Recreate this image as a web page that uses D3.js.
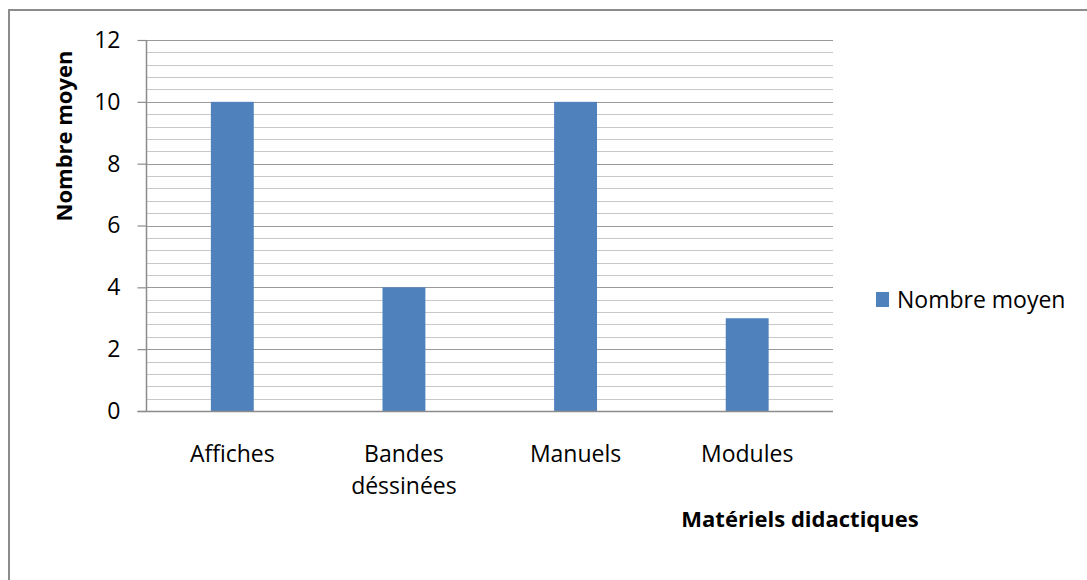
<!DOCTYPE html>
<html>
<head>
<meta charset="utf-8">
<script src="https://cdn.jsdelivr.net/npm/d3@7"></script>
<style>
  html, body { margin: 0; padding: 0; background: #fff; }
  svg { display: block; }
  text { font-family: "Open Sans", Lato, sans-serif; fill: #000; }
</style>
</head>
<body>
<svg id="chart" width="1087" height="580"></svg>
<script>
// Average number of teaching materials per type
const categories = [["Affiches"], ["Bandes", "déssinées"], ["Manuels"], ["Modules"]];
const values = [10, 4, 10, 3];
const seriesName = "Nombre moyen";
const yTicks = [0, 2, 4, 6, 8, 10, 12];
const xTitle = "Matériels didactiques";
const yTitle = "Nombre moyen";

const svg = d3.select("#chart");
const W = 1087, H = 580;
const plot = { left: 146.5, right: 833, top: 40, bottom: 411 };
const barColor = "#4f81bd";
const FONT = "\"Open Sans\", Lato, sans-serif";

// outer chart frame
svg.append("rect")
  .attr("x", 9).attr("y", 10)
  .attr("width", W + 20).attr("height", H + 20)
  .attr("fill", "#fff")
  .attr("stroke", "#8c8c8c").attr("stroke-width", 2);

const x = d3.scaleBand()
  .domain(d3.range(categories.length))
  .range([plot.left, plot.right])
  .paddingInner(0.75).paddingOuter(0.375);

const y = d3.scaleLinear().domain([0, 12]).range([plot.bottom, plot.top]);

// minor gridlines every 0.4
const minor = d3.range(0.4, 12.0001, 0.4).filter(v => Math.abs(v / 2 - Math.round(v / 2)) > 1e-6);
svg.append("g").selectAll("line").data(minor).join("line")
  .attr("x1", plot.left).attr("x2", plot.right)
  .attr("y1", d => Math.round(y(d)) + 0.5).attr("y2", d => Math.round(y(d)) + 0.5)
  .attr("stroke", "#c8c8c8").attr("stroke-width", 1.2);

// major gridlines
svg.append("g").selectAll("line").data(yTicks.filter(v => v > 0)).join("line")
  .attr("x1", plot.left).attr("x2", plot.right)
  .attr("y1", d => Math.round(y(d)) + 0.5).attr("y2", d => Math.round(y(d)) + 0.5)
  .attr("stroke", "#9a9a9a").attr("stroke-width", 1.2);

// bars
svg.append("g").selectAll("rect").data(values).join("rect")
  .attr("x", (d, i) => x(i))
  .attr("y", d => y(d))
  .attr("width", x.bandwidth())
  .attr("height", d => y(0) - y(d))
  .attr("fill", barColor);

// y axis
const yAxis = svg.append("g")
  .attr("transform", `translate(${plot.left},0)`)
  .call(d3.axisLeft(y).tickValues(yTicks).tickSize(9).tickPadding(17).tickFormat(d3.format("d")));
yAxis.select(".domain").attr("stroke", "#8c8c8c").attr("stroke-width", 1.5).attr("d", `M0,${plot.top}V${plot.bottom}`);
yAxis.selectAll(".tick line").attr("stroke", "#8c8c8c").attr("stroke-width", 1.2);
yAxis.selectAll(".tick text").style("font-size", "23px").style("font-family", FONT).attr("fill", "#000");

// x axis baseline
svg.append("line")
  .attr("x1", plot.left - 9).attr("x2", plot.right)
  .attr("y1", plot.bottom + 0.5).attr("y2", plot.bottom + 0.5)
  .attr("stroke", "#8c8c8c").attr("stroke-width", 1.5);

// category labels
const catG = svg.append("g");
categories.forEach((lines, i) => {
  const cx = x(i) + x.bandwidth() / 2;
  const t = catG.append("text")
    .attr("x", cx)
    .attr("y", 462)
    .attr("text-anchor", "middle")
    .style("font-size", "23px");
  lines.forEach((ln, j) => {
    t.append("tspan").attr("x", cx).attr("dy", j === 0 ? 0 : 32).text(ln);
  });
});

// axis titles
svg.append("text")
  .attr("x", 800).attr("y", 527)
  .attr("text-anchor", "middle")
  .style("font-size", "22px").style("font-weight", "bold")
  .text(xTitle);

svg.append("text")
  .attr("transform", "translate(72,136) rotate(-90)")
  .attr("text-anchor", "middle")
  .style("font-size", "22px").style("font-weight", "bold")
  .text(yTitle);

// legend
svg.append("rect")
  .attr("x", 876).attr("y", 292).attr("width", 13).attr("height", 15)
  .attr("fill", barColor);
svg.append("text")
  .attr("x", 897).attr("y", 308)
  .style("font-size", "23px")
  .text(seriesName);
</script>
</body>
</html>
